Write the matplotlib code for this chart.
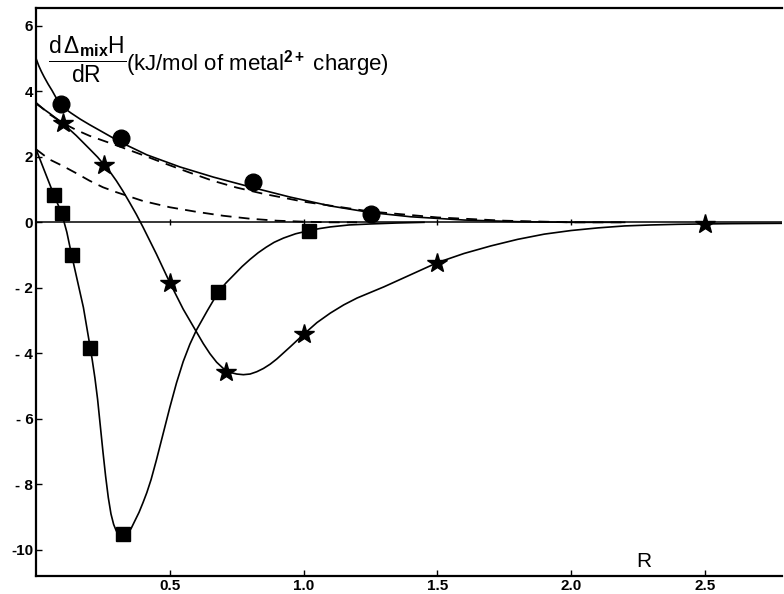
import matplotlib
matplotlib.use('Agg')
import matplotlib.pyplot as plt

plt.rcParams['font.family'] = ['Liberation Sans', 'DejaVu Sans']
plt.rcParams['mathtext.fontset'] = 'custom'
plt.rcParams['mathtext.rm'] = 'Liberation Sans'
plt.rcParams['mathtext.it'] = 'Liberation Sans:italic'
plt.rcParams['mathtext.bf'] = 'Liberation Sans:bold'

# measured points
circle_R = [0.092, 0.317, 0.81, 1.252]
circle_H = [3.6, 2.56, 1.23, 0.265]
star_R = [0.102, 0.255, 0.50, 0.71, 1.0, 1.5, 2.5]
star_H = [3.02, 1.76, -1.85, -4.57, -3.40, -1.23, -0.06]
square_R = [0.067, 0.096, 0.133, 0.202, 0.324, 0.681, 1.022]
square_H = [0.83, 0.27, -1.01, -3.83, -9.5, -2.13, -0.26]

# fitted curves
circ_fit_R = [0, 0.01, 0.02, 0.03, 0.045, 0.06, 0.075, 0.092, 0.11, 0.13, 0.165,
              0.2, 0.25, 0.317, 0.414, 0.538, 0.663, 0.81, 0.95, 1.1, 1.25,
              1.4, 1.6, 1.8, 2.0, 2.2]
circ_fit_H = [5.0, 4.78, 4.6, 4.44, 4.22, 4.02, 3.8, 3.6, 3.46, 3.34, 3.15,
              2.98, 2.75, 2.44, 2.06, 1.69, 1.38, 1.06, 0.77, 0.5, 0.3,
              0.17, 0.07, 0.02, 0.0, 0.0]

star_fit_R = [0, 0.05, 0.1, 0.15, 0.2, 0.23, 0.255, 0.28, 0.3, 0.325, 0.35,
              0.375, 0.4, 0.45, 0.5, 0.55, 0.6, 0.625, 0.65, 0.675, 0.7,
              0.725, 0.75, 0.775, 0.8, 0.825, 0.85, 0.875, 0.9, 0.95, 1.0,
              1.05, 1.1, 1.15, 1.2, 1.25, 1.3, 1.4, 1.5, 1.6, 1.7, 1.8, 1.9,
              2.0, 2.1, 2.2, 2.3, 2.4, 2.5, 2.6, 2.79]
star_fit_H = [3.62, 3.33, 3.02, 2.65, 2.24, 1.99, 1.75, 1.5, 1.27, 0.95, 0.6,
              0.24, -0.15, -0.97, -1.84, -2.65, -3.35, -3.7, -4.01, -4.27,
              -4.46, -4.58, -4.63, -4.65, -4.63, -4.56, -4.46, -4.33, -4.17,
              -3.8, -3.42, -3.06, -2.77, -2.52, -2.31, -2.14, -1.97, -1.6,
              -1.23, -0.95, -0.72, -0.52, -0.36, -0.25, -0.17, -0.11, -0.08,
              -0.06, -0.05, -0.04, -0.03]

sq_fit_R = [0, 0.03, 0.067, 0.096, 0.115, 0.133, 0.155, 0.177, 0.202, 0.21,
            0.22, 0.23, 0.24, 0.25, 0.26, 0.27, 0.28, 0.29, 0.3, 0.315, 0.33,
            0.34, 0.355, 0.37, 0.385, 0.4, 0.414, 0.43, 0.45, 0.475, 0.5,
            0.525, 0.55, 0.575, 0.6, 0.64, 0.681, 0.71, 0.74, 0.77, 0.8, 0.83,
            0.86, 0.89, 0.925, 0.97, 1.022, 1.06, 1.1, 1.17, 1.25, 1.35, 1.45]
sq_fit_H = [2.23, 1.6, 0.83, 0.27, -0.3, -1.0, -1.8, -2.6, -3.8, -4.2,
            -4.75, -5.4, -6.2, -7.0, -7.75, -8.4, -8.9, -9.22, -9.42, -9.55,
            -9.57, -9.5, -9.35, -9.1, -8.85, -8.55, -8.25, -7.85, -7.25,
            -6.45, -5.65, -4.9, -4.25, -3.72, -3.28, -2.7, -2.13, -1.85,
            -1.6, -1.35, -1.13, -0.93, -0.76, -0.61, -0.48, -0.35, -0.25,
            -0.19, -0.14, -0.08, -0.05, -0.02, 0.0]

dash1_R = [0, 0.05, 0.1, 0.15, 0.2, 0.29, 0.4, 0.48, 0.57, 0.66, 0.75, 0.85,
           1.0, 1.25, 1.5, 1.75, 2.0, 2.2]
dash1_H = [3.65, 3.3, 3.03, 2.82, 2.64, 2.38, 2.05, 1.8, 1.53, 1.27, 1.06,
           0.87, 0.63, 0.33, 0.15, 0.05, 0.0, 0.0]

dash2_R = [0, 0.05, 0.1, 0.15, 0.2, 0.25, 0.3, 0.4, 0.5, 0.6, 0.7, 0.8, 0.9,
           1.0, 1.1, 1.2]
dash2_H = [2.23, 1.92, 1.72, 1.5, 1.27, 1.07, 0.92, 0.65, 0.46, 0.32, 0.2,
           0.11, 0.05, 0.02, 0.0, 0.0]

xticks = [0.5, 1.0, 1.5, 2.0, 2.5]
xlabels = ['0.5', '1.0', '1.5', '2.0', '2.5']
yticks = [-10, -8, -6, -4, -2, 0, 2, 4, 6]
ylabels = ['-10', '- 8', '- 6', '- 4', '- 2', '0', '2', '4', '6']

fig = plt.figure(figsize=(7.84, 5.94), dpi=100)
ax = fig.add_axes([0.046, 0.030, 0.952, 0.957])

ax.plot(circ_fit_R, circ_fit_H, color='black', lw=1.2)
ax.plot(star_fit_R, star_fit_H, color='black', lw=1.2)
ax.plot(sq_fit_R, sq_fit_H, color='black', lw=1.2)
ax.plot(dash1_R, dash1_H, color='black', lw=1.3, ls=(0, (6, 4)))
ax.plot(dash2_R, dash2_H, color='black', lw=1.3, ls=(0, (6, 4)))
ax.axhline(0, color='black', lw=1.1)
ax.plot(xticks, [0] * len(xticks), ls='none', marker='|', ms=5, color='black')

ax.plot(circle_R, circle_H, 'o', color='black', ms=12)
ax.plot(star_R, star_H, '*', color='black', ms=15)
ax.plot(square_R, square_H, 's', color='black', ms=9.5)

ax.set_xlim(0, 2.79)
ax.set_ylim(-10.8, 6.55)
ax.set_xticks(xticks)
ax.set_xticklabels(xlabels, fontweight='bold', fontsize=11)
ax.set_yticks(yticks)
ax.set_yticklabels(ylabels, fontweight='bold', fontsize=11)
ax.tick_params(direction='in', length=4, width=1, pad=2)
for s in ['left', 'bottom', 'top']:
    ax.spines[s].set_linewidth(1.6)
ax.spines['right'].set_visible(False)

ax.text(0.045, 4.97,
        r'$\dfrac{\mathrm{d}\,\mathit{\Delta}_{\mathbf{mix}}\mathrm{H}}{\mathrm{dR}}$',
        fontsize=16.5, ha='left', va='center')
ax.text(0.335, 4.85, r'(kJ/mol of metal$^{\mathbf{2+}}$ charge)', fontsize=16,
        ha='left', va='center')
ax.text(2.27, -10.35, 'R', fontsize=15, ha='center', va='center')

fig.savefig('out.png', dpi=100)
